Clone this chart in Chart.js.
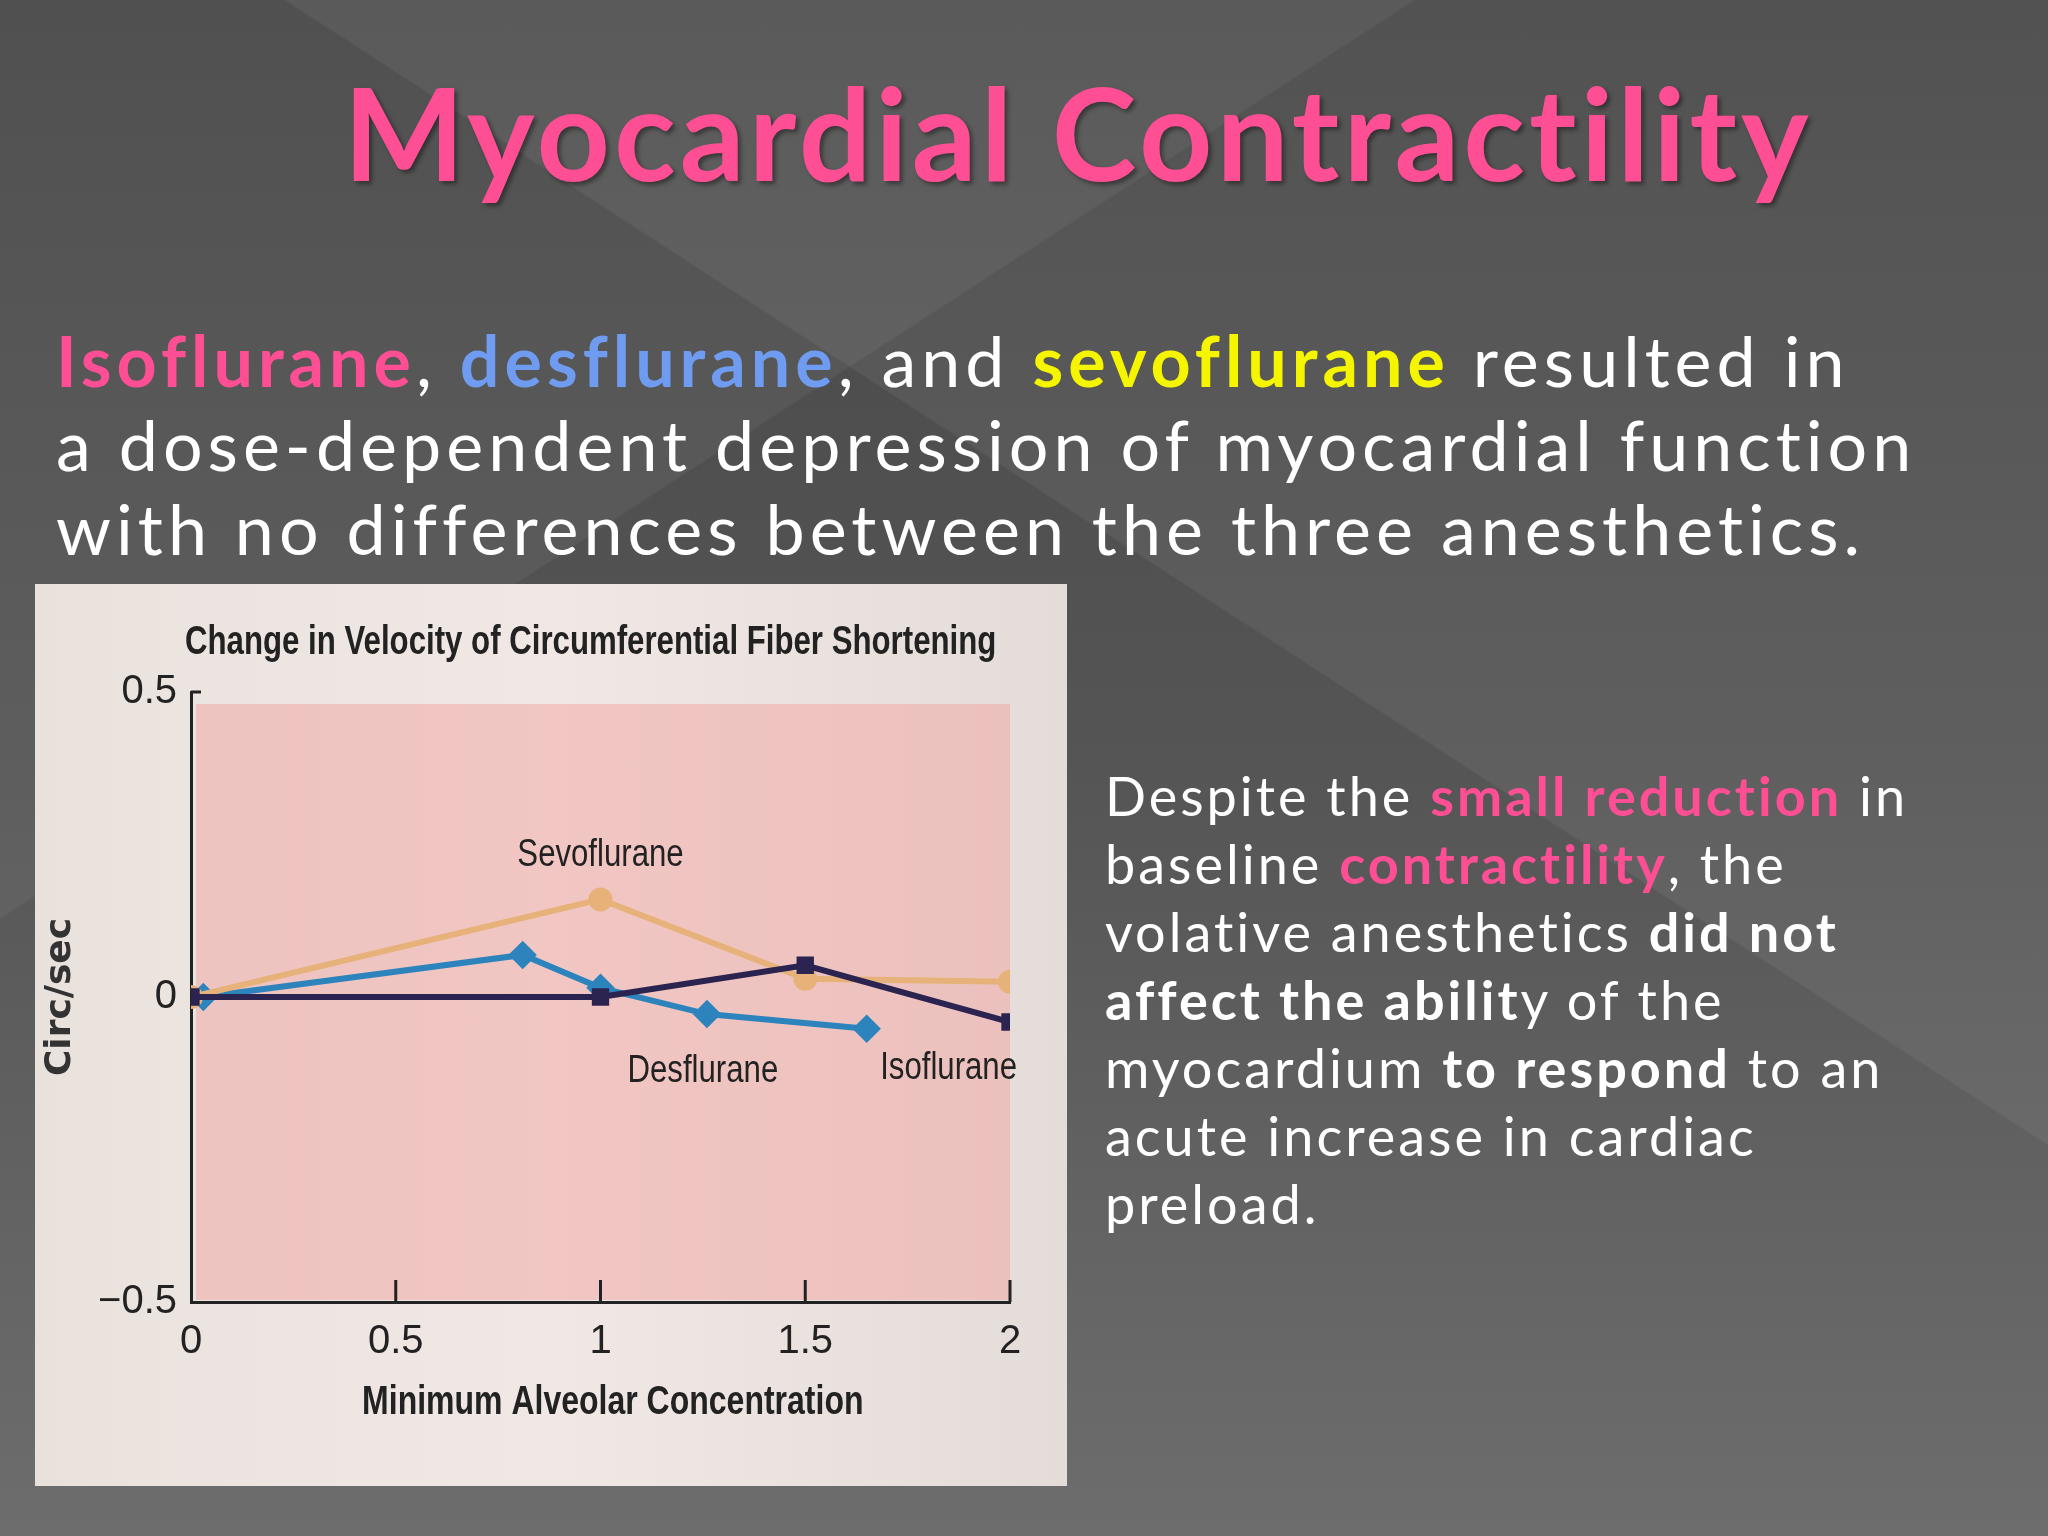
<!DOCTYPE html>
<html><head><meta charset="utf-8">
<script src="https://cdn.jsdelivr.net/npm/chart.js@4"></script>
<style>
html,body{margin:0;padding:0;width:2048px;height:1536px;overflow:hidden}
body{position:relative;font-family:"Lato","Noto Sans",sans-serif;color:#fff;
background:linear-gradient(180deg,#474747 0%,#555 50%,#6d6d6d 100%);}
.diag{position:absolute;inset:0;background:
linear-gradient(33deg,rgba(255,255,255,0) 60%,rgba(255,255,255,0.06) 60.1%,rgba(255,255,255,0.06) 100%),
linear-gradient(147deg,rgba(255,255,255,0.05) 0%,rgba(255,255,255,0.05) 32%,rgba(255,255,255,0) 32.1%);}
h1{position:absolute;left:0;width:2156px;top:55px;margin:0;text-align:center;font-size:128px;font-weight:700;color:#ff4f94;text-shadow:3px 3px 4px rgba(0,0,0,0.4);letter-spacing:4px}
.p1{position:absolute;left:56px;top:318px;font-size:70px;line-height:84px;width:1990px;letter-spacing:5px;white-space:nowrap}
.p2{position:absolute;left:1105px;top:762px;font-size:54px;line-height:68px;width:940px;letter-spacing:3px;white-space:nowrap}
.pk{color:#ff4f94;font-weight:700}.bl{color:#6f9bf0;font-weight:700}.yl{color:#f5f500;font-weight:700}
#box{position:absolute;left:35px;top:584px;width:1032px;height:902px;background:linear-gradient(90deg,#e9e2dc,#f1e8e6 50%,#e4dcd8)}
</style></head><body>
<div class="diag"></div>
<h1>Myocardial Contractility</h1>
<div class="p1"><span class="pk">Isoflurane</span>, <span class="bl">desflurane</span>, and <span class="yl">sevoflurane</span> resulted in<br>a dose-dependent depression of myocardial function<br>with no differences between the three anesthetics.</div>
<div class="p2">Despite the <span class="pk">small reduction</span> in<br>baseline <span class="pk">contractility</span>, the<br>volative anesthetics <b>did not</b><br><b>affect the abilit</b>y of the<br>myocardium <b>to respond</b> to an<br>acute increase in cardiac<br>preload.</div>
<div id="box"><canvas id="c" width="1032" height="902"></canvas></div>
<script>
const xTicks=[0,0.5,1,1.5,2];
const yTicks=[-0.5,0,0.5];
const sevoX=[0,1,1.5,2], sevoY=[0,0.16,0.03,0.025];
const desX=[0.03,0.81,1,1.26,1.65], desY=[0,0.069,0.015,-0.028,-0.052];
const isoX=[0,1,1.5,2], isoY=[0,0,0.052,-0.041];
const pts=(xs,ys)=>xs.map((x,i)=>({x,y:ys[i]}));
const F='"Liberation Sans",sans-serif';
function cond(g,txt,x,y,sx,align){g.save();g.translate(x,y);g.scale(sx,1);g.textAlign=align;g.fillText(txt,0,0);g.restore();}
const deco={id:'deco',
beforeDatasetsDraw(c){const a=c.chartArea,g=c.ctx;g.save();g.fillStyle='rgba(240,170,165,0.55)';g.fillRect(a.left+5,a.top+12,a.right-a.left-5,a.bottom-a.top-14);g.restore();},
afterDraw(c){const g=c.ctx,x=c.scales.x,y=c.scales.y;g.save();g.fillStyle='#222';
g.font='bold 40px '+F;cond(g,'Change in Velocity of Circumferential Fiber Shortening',150,70,0.78,'left');
g.font='38px '+F;
cond(g,'Sevoflurane',x.getPixelForValue(1),y.getPixelForValue(0.215),0.82,'center');
cond(g,'Desflurane',x.getPixelForValue(1.25),y.getPixelForValue(-0.14),0.82,'center');
cond(g,'Isoflurane',x.getPixelForValue(1.85),y.getPixelForValue(-0.135),0.82,'center');
g.font='bold 40px '+F;
cond(g,'Minimum Alveolar Concentration',x.getPixelForValue(1.03),y.bottom+112,0.8,'center');
g.strokeStyle='#222';g.lineWidth=3;
xTicks.slice(1).forEach(v=>{const p=x.getPixelForValue(v);g.beginPath();g.moveTo(p,y.bottom);g.lineTo(p,y.bottom-22);g.stroke();});
g.beginPath();g.moveTo(x.left,y.top);g.lineTo(x.left+10,y.top);g.stroke();
g.restore();}};
new Chart(document.getElementById('c'),{type:'line',
data:{datasets:[
{label:'Isoflurane',data:pts(isoX,isoY),borderColor:'#2b2350',backgroundColor:'#2b2350',borderWidth:6,pointStyle:'rect',pointRadius:8},
{label:'Sevoflurane',data:pts(sevoX,sevoY),borderColor:'#e6b27a',backgroundColor:'#e6b27a',borderWidth:6,pointStyle:'circle',pointRadius:9},
{label:'Desflurane',data:pts(desX,desY),borderColor:'#2d84bd',backgroundColor:'#2d84bd',borderWidth:6,pointStyle:'rectRot',pointRadius:10}
]},
options:{responsive:false,animation:false,layout:{padding:{left:0,right:57,top:108,bottom:0}},
plugins:{legend:{display:false},tooltip:{enabled:false}},
scales:{
x:{type:'linear',min:0,max:2,afterBuildTicks(s){s.ticks=xTicks.map(v=>({value:v}));},
afterFit(s){s.height=184;},
border:{color:'#222',width:3},grid:{display:false},
ticks:{color:'#222',font:{size:40,family:F},padding:8,callback:v=>String(v)}},
y:{min:-0.5,max:0.5,afterBuildTicks(s){s.ticks=yTicks.map(v=>({value:v}));},
afterFit(s){s.width=156;},
border:{color:'#222',width:3},grid:{display:false},
ticks:{color:'#222',font:{size:40,family:F},padding:6,callback:v=>v===-0.5?'\u22120.5':String(v)},
title:{display:true,text:'Circ/sec',color:'#333',font:{size:36,weight:'bold',family:'"DejaVu Sans",sans-serif'},padding:{bottom:40}}}
}},plugins:[deco]});
</script>
</body></html>
